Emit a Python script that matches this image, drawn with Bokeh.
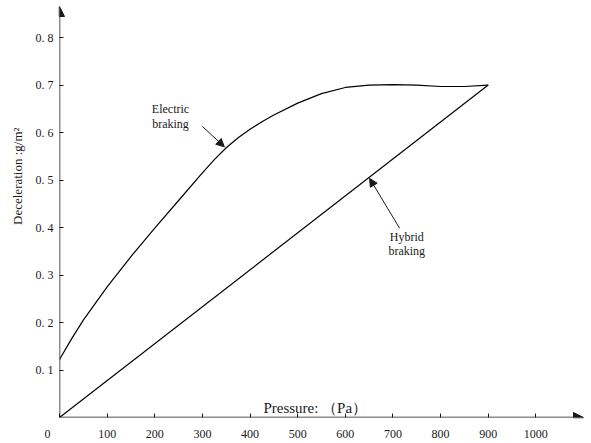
from bokeh.plotting import figure
from bokeh.models import Range1d, FixedTicker, CustomJSTickFormatter, Arrow, NormalHead, Label
from bokeh.embed import file_html
from bokeh.resources import INLINE

# ---- data ----
pressure = [0, 25, 50, 100, 150, 200, 250, 300, 325, 350, 375, 400, 425, 450, 500, 550, 600, 650,
            700, 750, 800, 850, 900]
electric = [0.122, 0.165, 0.205, 0.275, 0.339, 0.399, 0.457, 0.515, 0.543, 0.568, 0.589, 0.607,
            0.623, 0.637, 0.662, 0.682, 0.695, 0.700, 0.701, 0.700, 0.697, 0.697, 0.700]
hybrid_x = [0, 900]
hybrid_y = [0.0, 0.700]

x_ticks = [0, 100, 200, 300, 400, 500, 600, 700, 800, 900, 1000]
y_ticks = [0.1, 0.2, 0.3, 0.4, 0.5, 0.6, 0.7, 0.8]

x_max = 1100
y_max = 0.8655

SERIF = "Liberation Serif"
INK = "#1a1a1a"

p = figure(width=591, height=443, x_range=Range1d(0, x_max), y_range=Range1d(0, y_max),
           output_backend="svg", toolbar_location=None, title=None,
           min_border_left=59, min_border_right=8, min_border_top=6, min_border_bottom=25)
p.outline_line_color = None
p.grid.visible = False
p.background_fill_color = "white"
p.border_fill_color = "white"

for ax in (p.xaxis[0], p.yaxis[0]):
    ax.axis_line_color = None
    ax.major_tick_in = 4
    ax.major_tick_out = 0
    ax.major_tick_line_color = INK
    ax.major_tick_line_width = 1
    ax.minor_tick_line_color = None
    ax.major_label_text_font = SERIF
    ax.major_label_text_font_size = "12px"
    ax.major_label_text_color = INK

p.xaxis.ticker = FixedTicker(ticks=x_ticks)
p.xaxis.major_label_standoff = 9
p.xaxis.formatter = CustomJSTickFormatter(
    code="return tick == 0 ? '0\\u2003\\u2003' : tick.toFixed(0);")
p.yaxis.ticker = FixedTicker(ticks=y_ticks)
p.yaxis.major_label_standoff = 6
p.yaxis.formatter = CustomJSTickFormatter(code="return tick.toFixed(1).replace('.', '. ');")
p.yaxis.axis_label = "\u2003\u2003\u2003\u2003\u2003\u2002Deceleration :g/m²"
p.yaxis.axis_label_text_font = SERIF
p.yaxis.axis_label_text_font_size = "13px"
p.yaxis.axis_label_text_font_style = "normal"
p.yaxis.axis_label_text_color = INK
p.yaxis.axis_label_standoff = 8

# axes with arrow heads
p.add_layout(Arrow(end=NormalHead(size=10, fill_color=INK, line_color=INK),
                   x_start=0, y_start=0, x_end=x_max, y_end=0, line_width=1.5, line_color=INK))
p.add_layout(Arrow(end=NormalHead(size=10, fill_color=INK, line_color=INK),
                   x_start=0, y_start=0, x_end=0, y_end=y_max, line_width=1.5, line_color=INK))

# curves
p.line(pressure, electric, line_color="black", line_width=1.2)
p.line(hybrid_x, hybrid_y, line_color="black", line_width=1.2)

# annotations
def lab(x, y, text, size="12px", align="center", baseline="middle", angle=0.0):
    p.add_layout(Label(x=x, y=y, text=text, text_font=SERIF, text_font_size=size,
                       text_align=align, text_baseline=baseline, angle=angle, text_color=INK))

lab(233, 0.649, "Electric")
lab(233, 0.618, "braking")
p.add_layout(Arrow(end=NormalHead(size=8, fill_color=INK, line_color=INK),
                   x_start=300, y_start=0.613, x_end=346, y_end=0.570, line_width=1, line_color=INK))

lab(729, 0.380, "Hybrid")
lab(729, 0.351, "braking")
p.add_layout(Arrow(end=NormalHead(size=8, fill_color=INK, line_color=INK),
                   x_start=714, y_start=0.3985, x_end=651, y_end=0.5035, line_width=1, line_color=INK))

lab(428, 0.021, "Pressure: （Pa）", size="15px", align="left", baseline="alphabetic")

open("out.html", "w").write(file_html(p, INLINE))
